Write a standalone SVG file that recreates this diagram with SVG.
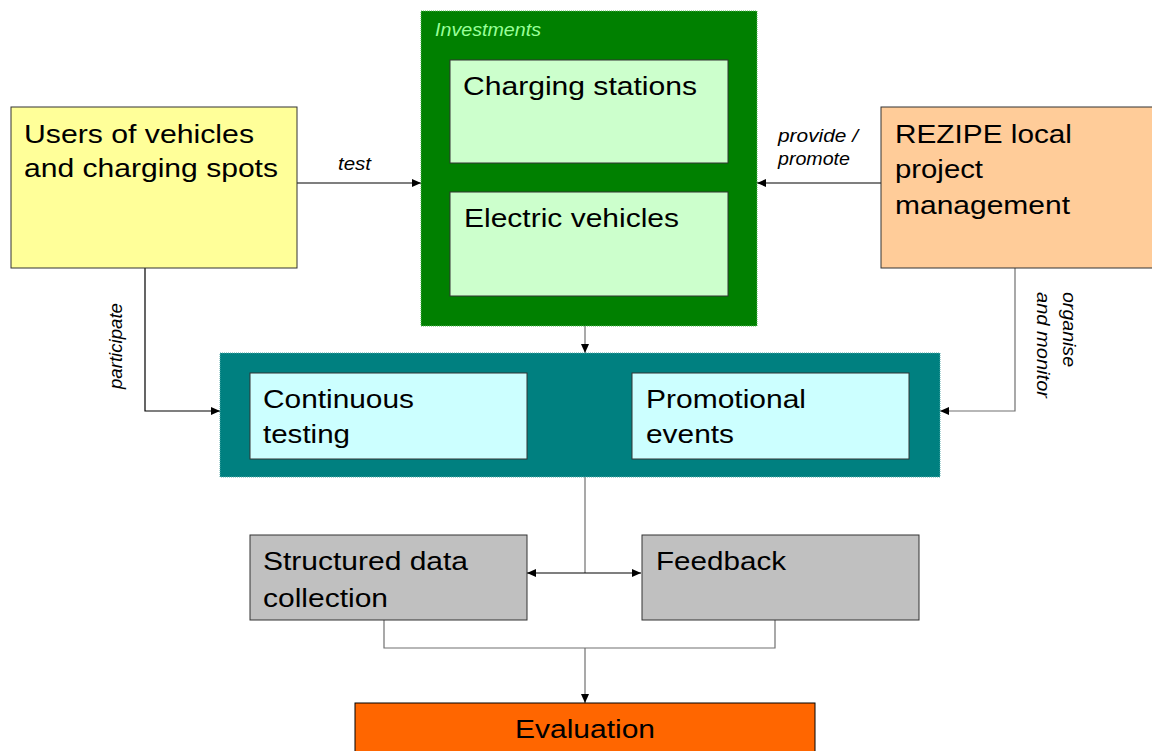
<svg xmlns="http://www.w3.org/2000/svg" width="1152" height="751" viewBox="0 0 1152 751">
  <style>
    .t { font-family: "Liberation Sans", Arial, sans-serif; font-size: 25px; fill: #000; }
    .s { font-family: "Liberation Sans", Arial, sans-serif; font-size: 18px; font-style: italic; fill: #000; }
    .box { stroke: #333; stroke-width: 1; }
    .c { fill: none; stroke: #000; stroke-width: 1.2; }
    .g { fill: none; stroke: #707070; stroke-width: 1.2; }
  </style>
  <defs>
    <marker id="ah" markerUnits="userSpaceOnUse" markerWidth="9" markerHeight="8" refX="9" refY="4" orient="auto">
      <path d="M0,0 L9,4 L0,8 z" fill="#000"/>
    </marker>
  </defs>
  <rect width="1152" height="751" fill="#fff"/>

  <g id="connectors">
    <line class="c" x1="297" y1="183" x2="421" y2="183" marker-end="url(#ah)"/>
    <line class="c" x1="881" y1="183" x2="757" y2="183" marker-end="url(#ah)"/>
    <line class="g" x1="585" y1="326" x2="585" y2="353" marker-end="url(#ah)"/>
    <polyline class="c" points="145,268 145,411 220,411" marker-end="url(#ah)"/>
    <polyline class="g" points="1015,268 1015,411 940,411" marker-end="url(#ah)"/>
    <line class="g" x1="585" y1="477" x2="585" y2="573"/>
    <line class="c" x1="585" y1="573" x2="527" y2="573" marker-end="url(#ah)"/>
    <line class="c" x1="585" y1="573" x2="641" y2="573" marker-end="url(#ah)"/>
    <polyline class="g" points="384,620 384,648 775,648 775,620"/>
    <line class="g" x1="585" y1="648" x2="585" y2="703" marker-end="url(#ah)"/>
    <text class="s" x="338" y="170" textLength="33" lengthAdjust="spacingAndGlyphs">test</text>
    <text class="s" x="778" y="142" textLength="80" lengthAdjust="spacingAndGlyphs">provide /</text>
    <text class="s" x="778" y="165" textLength="72" lengthAdjust="spacingAndGlyphs">promote</text>
    <text class="s" transform="translate(122,389) rotate(-90)" textLength="86" lengthAdjust="spacingAndGlyphs">participate</text>
    <text class="s" transform="translate(1063,292) rotate(90)" textLength="75" lengthAdjust="spacingAndGlyphs">organise</text>
    <text class="s" transform="translate(1037,292) rotate(90)" textLength="106" lengthAdjust="spacingAndGlyphs">and monitor</text>
  </g>

  <g id="users">
    <rect class="box" x="11" y="107" width="286" height="161" fill="#FFFF99"/>
    <text class="t" x="24" y="143" textLength="230" lengthAdjust="spacingAndGlyphs">Users of vehicles</text>
    <text class="t" x="24" y="177" textLength="254" lengthAdjust="spacingAndGlyphs">and charging spots</text>
  </g>

  <g id="investments">
    <rect x="421" y="11" width="336" height="315" fill="#008000" stroke="#55bb55" stroke-width="1" stroke-dasharray="1 1"/>
    <text class="s" x="435" y="36" style="fill:#99FF99" textLength="106" lengthAdjust="spacingAndGlyphs">Investments</text>
  </g>

  <g id="charging-stations">
    <rect class="box" x="450" y="60" width="278" height="103" fill="#CCFFCC"/>
    <text class="t" x="463" y="95" textLength="234" lengthAdjust="spacingAndGlyphs">Charging stations</text>
  </g>

  <g id="electric-vehicles">
    <rect class="box" x="450" y="192" width="278" height="104" fill="#CCFFCC"/>
    <text class="t" x="464" y="227" textLength="215" lengthAdjust="spacingAndGlyphs">Electric vehicles</text>
  </g>

  <g id="rezipe">
    <rect class="box" x="881" y="107" width="280" height="161" fill="#FFCC99"/>
    <text class="t" x="895" y="143" textLength="177" lengthAdjust="spacingAndGlyphs">REZIPE local</text>
    <text class="t" x="895" y="178" textLength="88" lengthAdjust="spacingAndGlyphs">project</text>
    <text class="t" x="895" y="214" textLength="175" lengthAdjust="spacingAndGlyphs">management</text>
  </g>

  <g id="activities">
    <rect x="220" y="353" width="720" height="124" fill="#008080" stroke="#55aaaa" stroke-width="1" stroke-dasharray="1 1"/>
  </g>

  <g id="continuous-testing">
    <rect class="box" x="250" y="373" width="277" height="86" fill="#CCFFFF"/>
    <text class="t" x="263" y="408" textLength="151" lengthAdjust="spacingAndGlyphs">Continuous</text>
    <text class="t" x="263" y="443" textLength="87" lengthAdjust="spacingAndGlyphs">testing</text>
  </g>

  <g id="promotional-events">
    <rect class="box" x="632" y="373" width="277" height="86" fill="#CCFFFF"/>
    <text class="t" x="646" y="408" textLength="160" lengthAdjust="spacingAndGlyphs">Promotional</text>
    <text class="t" x="646" y="443" textLength="88" lengthAdjust="spacingAndGlyphs">events</text>
  </g>

  <g id="structured-data">
    <rect class="box" x="250" y="535" width="277" height="85" fill="#C0C0C0"/>
    <text class="t" x="263" y="570" textLength="205" lengthAdjust="spacingAndGlyphs">Structured data</text>
    <text class="t" x="263" y="607" textLength="125" lengthAdjust="spacingAndGlyphs">collection</text>
  </g>

  <g id="feedback">
    <rect class="box" x="642" y="535" width="277" height="85" fill="#C0C0C0"/>
    <text class="t" x="656" y="570" textLength="130" lengthAdjust="spacingAndGlyphs">Feedback</text>
  </g>

  <g id="evaluation">
    <rect x="355" y="703" width="460" height="60" fill="#FF6600" stroke="#000" stroke-width="1"/>
    <text class="t" x="515" y="738" textLength="140" lengthAdjust="spacingAndGlyphs">Evaluation</text>
  </g>
</svg>
